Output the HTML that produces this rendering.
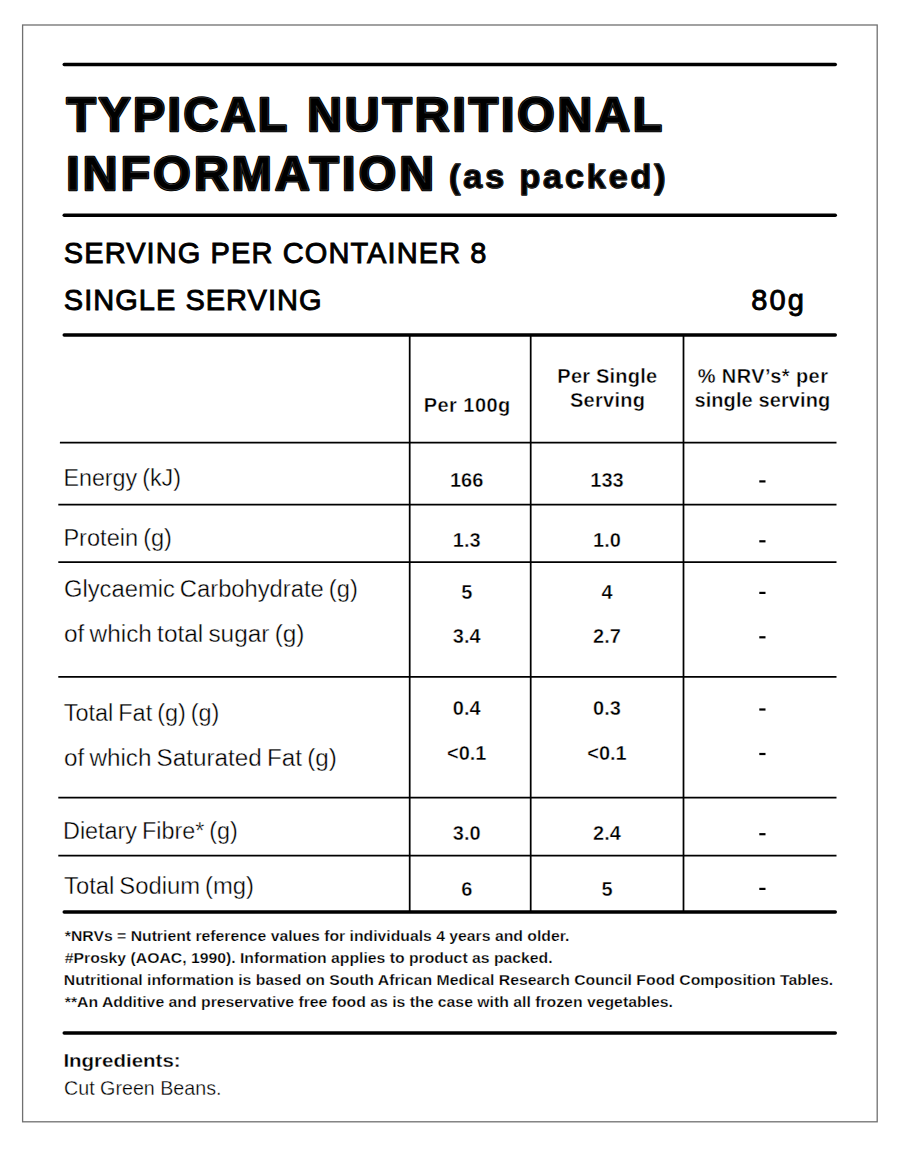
<!DOCTYPE html>
<html><head><meta charset="utf-8">
<style>
html,body{margin:0;padding:0;background:#fff;}
body{width:900px;height:1152px;overflow:hidden;position:relative;}
svg{position:absolute;left:0;top:0;}
text{font-family:"Liberation Sans",sans-serif;fill:#000;}
.t{font-weight:bold;font-size:48px;stroke:#000;stroke-width:2.6px;stroke-linejoin:round;}
.tp{font-weight:bold;font-size:34px;stroke:#000;stroke-width:1.4px;stroke-linejoin:round;}
.s{font-size:29px;stroke:#000;stroke-width:0.9px;}
.h{font-weight:bold;font-size:20px;stroke:#fff;stroke-width:0.4px;}
.l{font-size:23px;fill:#000;stroke:#fff;stroke-width:0.35px;word-spacing:-1.5px;}
.in{fill:none;stroke:#4a4a4a;stroke-width:0.5px;}
.v{font-weight:bold;font-size:20px;stroke:#fff;stroke-width:0.4px;}
.f{font-weight:bold;font-size:14.3px;stroke:#fff;stroke-width:0.25px;}
.i{font-weight:bold;font-size:18.8px;stroke:#fff;stroke-width:0.3px;}
.c{font-size:19.8px;fill:#000;stroke:#fff;stroke-width:0.3px;}
</style></head>
<body>
<svg width="900" height="1152" viewBox="0 0 900 1152">
<rect x="22.6" y="25" width="854.6" height="1096.8" fill="none" stroke="#707070" stroke-width="1.3"/>
<g stroke="#000" stroke-linecap="round" stroke-width="3.4">
<line x1="64.2" y1="64.5" x2="835.3" y2="64.5"/>
<line x1="64.2" y1="215.3" x2="835.3" y2="215.3"/>
<line x1="64.2" y1="335" x2="835.3" y2="335"/>
<line x1="64.2" y1="912" x2="835.3" y2="912"/>
<line x1="64.2" y1="1033" x2="835.3" y2="1033"/>
</g>
<g stroke="#000" stroke-width="1.75">
<line x1="59.9" y1="442.5" x2="836.5" y2="442.5"/>
<line x1="58.3" y1="504.5" x2="836.5" y2="504.5"/>
<line x1="58.3" y1="562.2" x2="836.5" y2="562.2"/>
<line x1="58.3" y1="676.8" x2="836.5" y2="676.8"/>
<line x1="58.3" y1="797.6" x2="836.5" y2="797.6"/>
<line x1="58.3" y1="855.5" x2="836.5" y2="855.5"/>
<line x1="409.7" y1="335" x2="409.7" y2="912"/>
<line x1="530.7" y1="335" x2="530.7" y2="912"/>
<line x1="683.5" y1="335" x2="683.5" y2="912"/>
</g>
<g fill="#000">
<rect x="759.3" y="480.3" width="6.2" height="2.2"/>
<rect x="759.3" y="540.2" width="6.2" height="2.2"/>
<rect x="759.3" y="591.8" width="6.2" height="2.2"/>
<rect x="759.3" y="636.2" width="6.2" height="2.2"/>
<rect x="759.3" y="708.4" width="6.2" height="2.2"/>
<rect x="759.3" y="752.9" width="6.2" height="2.2"/>
<rect x="759.3" y="833.1" width="6.2" height="2.2"/>
<rect x="759.3" y="887.8" width="6.2" height="2.2"/>
</g>
<text id="t1" class="t" x="66.60" y="130.8" textLength="220.57">TYPICAL</text>
<text class="t in" x="66.60" y="130.8" textLength="220.57">TYPICAL</text>
<text id="t2" class="t" x="307.20" y="130.8" textLength="354.98">NUTRITIONAL</text>
<text class="t in" x="307.20" y="130.8" textLength="354.98">NUTRITIONAL</text>
<text id="t3" class="t" x="66.20" y="190.3" textLength="367.74">INFORMATION</text>
<text class="t in" x="66.20" y="190.3" textLength="367.74">INFORMATION</text>
<text id="t4" class="tp" x="449.00" y="187.6" textLength="216.60">(as packed)</text>
<text class="tp in" x="449.00" y="187.6" textLength="216.60">(as packed)</text>
<text id="s1" class="s" x="63.80" y="262.9" textLength="422.69">SERVING PER CONTAINER 8</text>
<text id="s2" class="s" x="63.80" y="309.8" textLength="257.70">SINGLE SERVING</text>
<text id="s3" class="s" x="751.20" y="309.8" textLength="52.62">80g</text>
<text id="h1" class="h" x="467.00" y="411.7" text-anchor="middle" textLength="86.62">Per 100g</text>
<text id="h2" class="h" x="607.20" y="383" text-anchor="middle" textLength="99.66">Per Single</text>
<text id="h3" class="h" x="607.50" y="407" text-anchor="middle" textLength="74.99">Serving</text>
<text id="h4" class="h" x="762.80" y="383" text-anchor="middle" textLength="130.30">% NRV’s* per</text>
<text id="h5" class="h" x="762.30" y="407" text-anchor="middle" textLength="135.75">single serving</text>
<text id="l1" class="l" x="63.40" y="485.6" textLength="117.59" lengthAdjust="spacingAndGlyphs">Energy (kJ)</text>
<text id="l2" class="l" x="63.40" y="545.6" textLength="108.57" lengthAdjust="spacingAndGlyphs">Protein (g)</text>
<text id="l3" class="l" x="64.00" y="597.2" textLength="293.81" lengthAdjust="spacingAndGlyphs">Glycaemic Carbohydrate (g)</text>
<text id="l4" class="l" x="64.00" y="642" textLength="240.47" lengthAdjust="spacingAndGlyphs">of which total sugar (g)</text>
<text id="l5" class="l" x="63.80" y="720.6" textLength="155.62" lengthAdjust="spacingAndGlyphs">Total Fat (g) (g)</text>
<text id="l6" class="l" x="64.00" y="765.7" textLength="272.82" lengthAdjust="spacingAndGlyphs">of which Saturated Fat (g)</text>
<text id="l7" class="l" x="63.00" y="838.5" textLength="174.91" lengthAdjust="spacingAndGlyphs">Dietary Fibre* (g)</text>
<text id="l8" class="l" x="64.00" y="894" textLength="190.03" lengthAdjust="spacingAndGlyphs">Total Sodium (mg)</text>
<text id="va0" class="v" x="466.70" y="486.9" text-anchor="middle">166</text>
<text id="vb0" class="v" x="607.00" y="486.9" text-anchor="middle">133</text>
<text id="va1" class="v" x="466.70" y="546.8" text-anchor="middle">1.3</text>
<text id="vb1" class="v" x="607.00" y="546.8" text-anchor="middle">1.0</text>
<text id="va2" class="v" x="466.70" y="598.7" text-anchor="middle">5</text>
<text id="vb2" class="v" x="607.00" y="598.7" text-anchor="middle">4</text>
<text id="va3" class="v" x="466.70" y="642.8" text-anchor="middle">3.4</text>
<text id="vb3" class="v" x="607.00" y="642.8" text-anchor="middle">2.7</text>
<text id="va4" class="v" x="466.70" y="714.5" text-anchor="middle">0.4</text>
<text id="vb4" class="v" x="607.00" y="714.5" text-anchor="middle">0.3</text>
<text id="va5" class="v" x="466.70" y="759.5" text-anchor="middle">&lt;0.1</text>
<text id="vb5" class="v" x="607.00" y="759.5" text-anchor="middle">&lt;0.1</text>
<text id="va6" class="v" x="466.70" y="839.9" text-anchor="middle">3.0</text>
<text id="vb6" class="v" x="607.00" y="839.9" text-anchor="middle">2.4</text>
<text id="va7" class="v" x="466.70" y="896.3" text-anchor="middle">6</text>
<text id="vb7" class="v" x="607.00" y="896.3" text-anchor="middle">5</text>
<text id="f1" class="f" x="64.80" y="941" textLength="504.51" lengthAdjust="spacingAndGlyphs">*NRVs = Nutrient reference values for individuals 4 years and older.</text>
<text id="f2" class="f" x="64.80" y="963" textLength="487.83" lengthAdjust="spacingAndGlyphs">#Prosky (AOAC, 1990). Information applies to product as packed.</text>
<text id="f3" class="f" x="63.80" y="985" textLength="769.44" lengthAdjust="spacingAndGlyphs">Nutritional information is based on South African Medical Research Council Food Composition Tables.</text>
<text id="f4" class="f" x="64.80" y="1007" textLength="608.09" lengthAdjust="spacingAndGlyphs">**An Additive and preservative free food as is the case with all frozen vegetables.</text>
<text id="i1" class="i" x="63.40" y="1067" textLength="117.28" lengthAdjust="spacingAndGlyphs">Ingredients:</text>
<text id="i2" class="c" x="64.00" y="1095" textLength="157.48" lengthAdjust="spacingAndGlyphs">Cut Green Beans.</text>
</svg>
</body></html>
